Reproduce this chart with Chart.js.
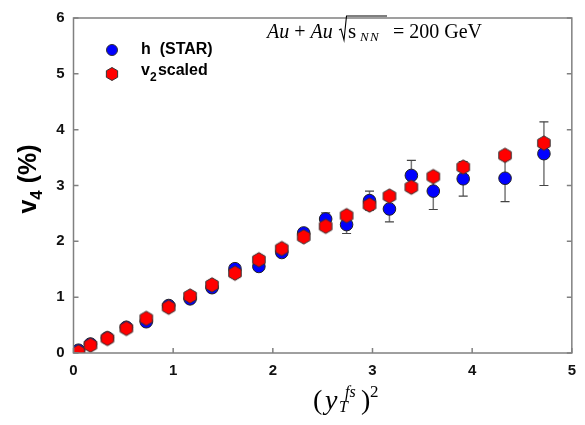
<!DOCTYPE html>
<html>
<head>
<meta charset="utf-8">
<script src="https://cdn.jsdelivr.net/npm/chart.js@4.4.1/dist/chart.umd.min.js"></script>
<style>
  html, body { margin: 0; padding: 0; background: #fff; }
  #wrap { width: 585px; height: 425px; }
</style>
</head>
<body>
<div id="wrap"><canvas id="c" width="585" height="425"></canvas></div>
<script>
// x values, (y_T^fs)^2
const xVals = [0.05, 0.17, 0.34, 0.53, 0.73, 0.955, 1.17, 1.39, 1.62, 1.86, 2.09, 2.31,
               2.53, 2.74, 2.97, 3.17, 3.39, 3.61, 3.91, 4.33, 4.72];
// STAR v4 (%)
const starV4 = [0.05, 0.16, 0.27, 0.46, 0.56, 0.85, 0.97, 1.17, 1.51, 1.55, 1.80, 2.15,
                2.40, 2.30, 2.73, 2.58, 3.18, 2.90, 3.12, 3.13, 3.57];
const starErr = [0.02, 0.02, 0.03, 0.03, 0.04, 0.04, 0.04, 0.05, 0.05, 0.06, 0.07, 0.08,
                 0.11, 0.16, 0.17, 0.23, 0.27, 0.33, 0.31, 0.42, 0.57];
// v2 scaled
const scaledV4 = [0.02, 0.14, 0.26, 0.44, 0.62, 0.82, 1.02, 1.22, 1.43, 1.67, 1.87, 2.08,
                  2.27, 2.46, 2.65, 2.81, 2.97, 3.16, 3.33, 3.54, 3.76];
const xTicks = [0, 1, 2, 3, 4, 5];
const yTicks = [0, 1, 2, 3, 4, 5, 6];

const SANS = 'Arial, "Liberation Sans", sans-serif';
const SERIF = '"Liberation Serif", "Times New Roman", serif';

// hexagon marker, pointed top
function hexagon(r, fill) {
  const cv = document.createElement('canvas');
  const s = Math.ceil(r * 2 + 3);
  cv.width = s; cv.height = s;
  const g = cv.getContext('2d');
  g.beginPath();
  for (let i = 0; i < 6; i++) {
    const a = Math.PI / 2 + i * Math.PI / 3;
    const px = s / 2 + r * Math.cos(a), py = s / 2 + r * Math.sin(a);
    i ? g.lineTo(px, py) : g.moveTo(px, py);
  }
  g.closePath();
  g.fillStyle = fill; g.fill();
  g.strokeStyle = '#333'; g.lineWidth = 1; g.stroke();
  return cv;
}
const hexBig = hexagon(7.2, '#ff0000');
const hexSmall = hexagon(6.5, '#ff0000');

const pts = (ys) => xVals.map((x, i) => ({x: x, y: ys[i]}));

const frame = {
  id: 'frame',
  beforeDatasetsDraw(chart) {
    const {ctx, scales: {x, y}} = chart;
    // error bars for STAR
    ctx.save();
    xVals.forEach((xv, i) => {
      const px = x.getPixelForValue(xv);
      const top = y.getPixelForValue(starV4[i] + starErr[i]);
      const bot = y.getPixelForValue(starV4[i] - starErr[i]);
      ctx.strokeStyle = '#777'; ctx.lineWidth = 1.5;
      ctx.beginPath(); ctx.moveTo(px, top); ctx.lineTo(px, bot); ctx.stroke();
      ctx.strokeStyle = '#444'; ctx.lineWidth = 1.2;
      ctx.beginPath();
      ctx.moveTo(px - 4.5, top); ctx.lineTo(px + 4.5, top);
      ctx.moveTo(px - 4.5, bot); ctx.lineTo(px + 4.5, bot);
      ctx.stroke();
    });
    ctx.restore();
  },
  afterDraw(chart) {
    const {ctx, chartArea: a, scales: {x, y}} = chart;
    ctx.save();
    ctx.strokeStyle = '#808080'; ctx.lineWidth = 1.5;
    ctx.strokeRect(a.left, a.top, a.right - a.left, a.bottom - a.top);
    ctx.beginPath();
    xTicks.forEach(t => {
      const px = x.getPixelForValue(t);
      ctx.moveTo(px, a.bottom); ctx.lineTo(px, a.bottom - 5);
    });
    yTicks.forEach(t => {
      const py = y.getPixelForValue(t);
      ctx.moveTo(a.left, py); ctx.lineTo(a.left + 5, py);
      ctx.moveTo(a.right, py); ctx.lineTo(a.right - 5, py);
    });
    ctx.stroke();

    // legend
    ctx.fillStyle = '#0000ff'; ctx.strokeStyle = '#333'; ctx.lineWidth = 1;
    ctx.beginPath(); ctx.arc(112, 50, 5.5, 0, Math.PI * 2); ctx.fill(); ctx.stroke();
    ctx.drawImage(hexSmall, 112 - hexSmall.width / 2, 74 - hexSmall.height / 2);
    ctx.fillStyle = '#000';
    ctx.textBaseline = 'middle'; ctx.textAlign = 'left';
    ctx.font = 'bold 16px ' + SANS;
    ctx.fillText('h  (STAR)', 141, 50);
    ctx.fillText('v', 141, 71);
    const vw = ctx.measureText('v').width;
    ctx.font = 'bold 12px ' + SANS;
    ctx.fillText('2', 141 + vw, 78);
    ctx.font = 'bold 16px ' + SANS;
    ctx.fillText('scaled', 141 + vw + 8, 71);

    // collision label
    ctx.textBaseline = 'alphabetic';
    const base = 38;
    let cx = 267;
    ctx.font = 'italic 20px ' + SERIF;
    ctx.fillText('Au', cx, base); cx += ctx.measureText('Au').width;
    ctx.font = '20px ' + SERIF;
    ctx.fillText(' + ', cx, base); cx += ctx.measureText(' + ').width;
    ctx.font = 'italic 20px ' + SERIF;
    ctx.fillText('Au', cx, base);
    // sqrt sign
    ctx.strokeStyle = '#000'; ctx.lineWidth = 1.1;
    ctx.beginPath();
    ctx.moveTo(339, 30); ctx.lineTo(341, 29);
    ctx.lineTo(344, 40); ctx.lineTo(346.5, 16); ctx.lineTo(387, 16);
    ctx.stroke();
    ctx.font = '21px ' + SERIF;
    ctx.fillText('s', 348, base);
    ctx.font = 'italic 13px ' + SERIF;
    ctx.fillText('N', 360, base + 3);
    ctx.fillText('N', 370, base + 3);
    ctx.font = '20px ' + SERIF;
    ctx.fillText('= 200 GeV', 393, base);

    // y title
    ctx.save();
    ctx.translate(36, 179);
    ctx.rotate(-Math.PI / 2);
    ctx.textAlign = 'left'; ctx.textBaseline = 'alphabetic';
    ctx.font = 'bold 25px ' + SANS;
    const w1 = ctx.measureText('v').width;
    ctx.font = 'bold 17px ' + SANS;
    const w2 = ctx.measureText('4').width;
    ctx.font = 'bold 25px ' + SANS;
    const w3 = ctx.measureText(' (%)').width;
    let sx = -(w1 + w2 + w3) / 2;
    ctx.fillText('v', sx, 0); sx += w1;
    ctx.font = 'bold 17px ' + SANS;
    ctx.fillText('4', sx, 6); sx += w2;
    ctx.font = 'bold 25px ' + SANS;
    ctx.fillText(' (%)', sx, 0);
    ctx.restore();

    // x title
    const xb = 409;
    ctx.font = '28px ' + SERIF;
    ctx.fillText('(', 313, xb);
    ctx.font = 'italic 28px ' + SERIF;
    ctx.fillText('y', 325, xb);
    ctx.font = 'italic 16px ' + SERIF;
    ctx.fillText('fs', 345, xb - 12);
    ctx.fillText('T', 339, xb + 3);
    ctx.font = '28px ' + SERIF;
    ctx.fillText(')', 361, xb);
    ctx.font = '17px ' + SERIF;
    ctx.fillText('2', 370, xb - 12);
    ctx.restore();
  }
};

new Chart(document.getElementById('c'), {
  type: 'scatter',
  data: {
    datasets: [
      {
        label: 'v2 scaled',
        data: pts(scaledV4),
        pointStyle: hexBig,
        pointRadius: 7
      },
      {
        label: 'h (STAR)',
        data: pts(starV4),
        pointStyle: 'circle',
        pointRadius: 6.3,
        backgroundColor: '#0000ff',
        borderColor: '#222',
        borderWidth: 1
      }
    ]
  },
  options: {
    responsive: false,
    animation: false,
    events: [],
    layout: { padding: { top: 4, right: 11, left: 0, bottom: 0 } },
    plugins: { legend: { display: false }, tooltip: { enabled: false } },
    scales: {
      x: {
        type: 'linear', min: 0, max: 5,
        afterFit: s => { s.height = 72; },
        afterBuildTicks: s => { s.ticks = xTicks.map(v => ({value: v})); },
        grid: { display: false, drawTicks: false },
        border: { display: false },
        ticks: { padding: 9, color: '#111', maxRotation: 0,
                 font: { family: SANS, size: 15, weight: 'bold' } }
      },
      y: {
        type: 'linear', min: 0, max: 6,
        afterFit: s => { s.width = 73.5; },
        afterBuildTicks: s => { s.ticks = yTicks.map(v => ({value: v})); },
        grid: { display: false, drawTicks: false },
        border: { display: false },
        ticks: { padding: 9, color: '#111',
                 font: { family: SANS, size: 15, weight: 'bold' } }
      }
    }
  },
  plugins: [frame]
});
</script>
</body>
</html>
